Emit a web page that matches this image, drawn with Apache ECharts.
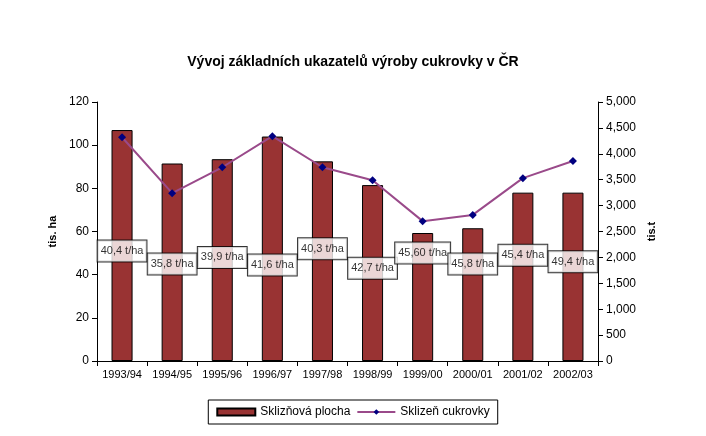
<!DOCTYPE html>
<html><head><meta charset="utf-8">
<script src="https://cdn.jsdelivr.net/npm/echarts@6/dist/echarts.min.js"></script>
<style>html,body{margin:0;background:#fff}#c{width:706px;height:436px}</style>
</head><body><div id="c"></div>
<script>
var years = ['1993/94','1994/95','1995/96','1996/97','1997/98','1998/99','1999/00','2000/01','2001/02','2002/03'];
var area = [107, 91.5, 93.5, 104, 92.5, 81.5, 59.3, 61.5, 78, 78];
var harvest = [4320, 3240, 3740, 4340, 3740, 3490, 2700, 2820, 3530, 3860];
var yieldLabels = ['40,4 t/ha','35,8 t/ha','39,9 t/ha','41,6 t/ha','40,3 t/ha','42,7 t/ha','45,60 t/ha','45,8 t/ha','45,4 t/ha','49,4 t/ha'];
var labelLevel = [51, 45, 48, 44.5, 52, 43, 50, 45, 49, 46];

var chart = echarts.init(document.getElementById('c'));
var font = 'Liberation Sans';
chart.setOption({
  backgroundColor: '#fff',
  animation: false,
  textStyle: {fontFamily: font},
  title: {text: 'Vývoj základních ukazatelů výroby cukrovky v ČR', left: 'center', top: 50,
    textStyle: {fontSize: 14, fontWeight: 'bold', color: '#000', fontFamily: font}},
  grid: {left: 97, right: 108, top: 102, bottom: 75},
  legend: {bottom: 12, left: 'center', itemWidth: 38, itemHeight: 7, itemGap: 6,
    padding: [6, 8], borderColor: '#000', borderWidth: 1,
    textStyle: {fontSize: 12, color: '#000'},
    data: [{name: 'Sklizňová plocha', icon: 'rect'}, 'Sklizeň cukrovky']},
  xAxis: {type: 'category', data: years,
    axisLine: {lineStyle: {color: '#000'}}, axisTick: {show: true, lineStyle: {color: '#000'}},
    axisLabel: {color: '#000', fontSize: 11, interval: 0}},
  yAxis: [
    {type: 'value', min: 0, max: 120, interval: 20, name: 'tis. ha', nameLocation: 'middle', nameGap: 34,
     nameTextStyle: {color: '#000', fontSize: 11, fontWeight: 'bold'},
     axisLine: {show: true, lineStyle: {color: '#000'}}, axisTick: {show: true},
     axisLabel: {color: '#000', fontSize: 12}, splitLine: {show: false}},
    {type: 'value', min: 0, max: 5000, interval: 500, name: 'tis.t', nameLocation: 'middle', nameGap: 40,
     nameTextStyle: {color: '#000', fontSize: 11, fontWeight: 'bold'},
     axisLine: {show: true, lineStyle: {color: '#000'}}, axisTick: {show: true},
     axisLabel: {color: '#000', fontSize: 12}, splitLine: {show: false}}
  ],
  series: [
    {name: 'Sklizňová plocha', type: 'bar', data: area, barWidth: '42%',
     itemStyle: {color: '#993333', borderColor: '#000', borderWidth: 1}},
    {name: 'Sklizeň cukrovky', type: 'line', yAxisIndex: 1, data: harvest,
     symbol: 'diamond', symbolSize: 8, lineStyle: {color: '#9a4a8a', width: 2},
     itemStyle: {color: '#000080'}},
    {name: 'yield', type: 'scatter', symbolSize: 0, z: 5,
     data: labelLevel.map(function (v, i) { return {value: [i, v], name: yieldLabels[i]}; }),
     label: {show: true, position: 'inside', formatter: '{b}', color: '#000', fontSize: 11,
       backgroundColor: '#fff', borderColor: '#000', borderWidth: 1, padding: [5, 3]}}
  ]
});
</script></body></html>
